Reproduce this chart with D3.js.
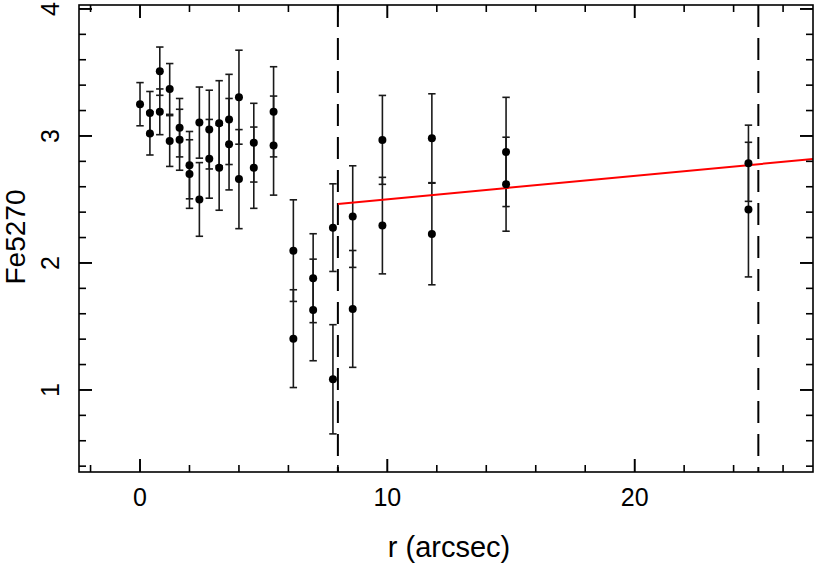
<!DOCTYPE html>
<html>
<head>
<meta charset="utf-8">
<script src="https://cdn.jsdelivr.net/npm/d3@7"></script>
<style>
  html, body { margin: 0; padding: 0; background: #ffffff; }
  svg { display: block; }
  text { font-family: "Liberation Sans", Arial, sans-serif; fill: #000; }
</style>
</head>
<body>
<svg id="chart" width="817" height="568"></svg>
<script>
// ---- data ----
const radius = [0,
  0.4, 0.4, 0.8, 0.8, 1.2, 1.2, 1.6, 1.6, 2.0, 2.0,
  2.4, 2.4, 2.8, 2.8, 3.2, 3.2, 3.6, 3.6, 4.0, 4.0,
  4.6, 4.6, 5.4, 5.4, 6.2, 6.2, 7.0, 7.0, 7.8, 7.8,
  8.6, 8.6, 9.8, 9.8, 11.8, 11.8, 14.8, 14.8, 24.6, 24.6];
const fe5270 = [3.25,
  3.18, 3.02, 3.51, 3.19, 3.37, 2.96, 3.065, 2.97, 2.77, 2.70,
  3.105, 2.50, 3.05, 2.82, 3.10, 2.75, 3.13, 2.935, 3.305, 2.66,
  2.947, 2.75, 3.19, 2.924, 2.097, 1.404, 1.88, 1.63, 2.278, 1.084,
  2.365, 1.638, 2.969, 2.294, 2.982, 2.228, 2.874, 2.62, 2.785, 2.42];
const fe5270Err = [0.17,
  0.17, 0.17, 0.19, 0.18, 0.20, 0.20, 0.23, 0.24, 0.265, 0.27,
  0.28, 0.29, 0.31, 0.31, 0.335, 0.335, 0.355, 0.36, 0.37, 0.39,
  0.31, 0.32, 0.355, 0.39, 0.40, 0.385, 0.35, 0.40, 0.345, 0.43,
  0.40, 0.46, 0.35, 0.38, 0.35, 0.40, 0.43, 0.37, 0.30, 0.53];
const fitR = [8, 27.21];
const fitFe = [2.465, 2.818];
const boundaryR = [8, 25];
const xTickLabels = [0, 10, 20];
const yTickLabels = [1, 2, 3, 4];
const xLabel = "r (arcsec)";
const yLabel = "Fe5270";

// ---- layout ----
const svg = d3.select("#chart");
const L = 79, R = 813, T = 5, B = 472;
const x = d3.scaleLinear().domain([-2.467, 27.21]).range([L, R]);
const y = d3.scaleLinear().domain([0.354, 4.031]).range([B, T]);

const points = radius.map((r, i) => ({ r, v: fe5270[i], e: fe5270Err[i] }));

svg.append("clipPath").attr("id", "clip")
  .append("rect").attr("x", L).attr("y", T).attr("width", R - L).attr("height", B - T);

const plot = svg.append("g").attr("clip-path", "url(#clip)");

// dashed boundary lines
plot.selectAll(".bound").data(boundaryR).enter().append("line")
  .attr("x1", d => x(d)).attr("x2", d => x(d))
  .attr("y1", T).attr("y2", B)
  .attr("stroke", "#000").attr("stroke-width", 2)
  .attr("stroke-dasharray", "22,11");

// error bars
const eb = plot.append("g").attr("stroke", "#1a1a1a").attr("stroke-width", 1.6).attr("fill", "none");
points.forEach(p => {
  eb.append("line").attr("x1", x(p.r)).attr("x2", x(p.r))
    .attr("y1", y(p.v + p.e)).attr("y2", y(p.v - p.e));
  [p.v + p.e, p.v - p.e].forEach(c => {
    eb.append("line").attr("x1", x(p.r) - 3.7).attr("x2", x(p.r) + 3.7)
      .attr("y1", y(c)).attr("y2", y(c));
  });
});

// fit line
plot.append("path")
  .datum(fitR.map((r, i) => [r, fitFe[i]]))
  .attr("d", d3.line().x(d => x(d[0])).y(d => y(d[1])))
  .attr("stroke", "#ff0000").attr("stroke-width", 2).attr("fill", "none");

// points
plot.selectAll(".pt").data(points).enter().append("circle")
  .attr("cx", d => x(d.r)).attr("cy", d => y(d.v)).attr("r", 4)
  .attr("fill", "#000");

// ---- frame & ticks ----
const axes = svg.append("g").attr("stroke", "#000").attr("stroke-width", 1.6);
axes.append("rect").attr("x", L).attr("y", T).attr("width", R - L).attr("height", B - T)
  .attr("fill", "none");

const xMinor = d3.range(-2, 27.5, 2);
const xMajor = d3.range(0, 27, 10);
const yMinor = d3.range(0.4, 4.01, 0.2).map(v => +v.toFixed(1));
const yMajor = [1, 2, 3, 4];

function tickLen(isMajor) { return isMajor ? 13 : 7; }

xMinor.concat(xMajor).forEach(v => {
  const len = tickLen(xMajor.includes(v));
  axes.append("line").attr("x1", x(v)).attr("x2", x(v)).attr("y1", B).attr("y2", B - len);
  axes.append("line").attr("x1", x(v)).attr("x2", x(v)).attr("y1", T).attr("y2", T + len);
});
yMinor.concat(yMajor).forEach(v => {
  const len = tickLen(yMajor.includes(v));
  axes.append("line").attr("x1", L).attr("x2", L + len).attr("y1", y(v)).attr("y2", y(v));
  axes.append("line").attr("x1", R).attr("x2", R - len).attr("y1", y(v)).attr("y2", y(v));
});

// tick labels
svg.selectAll(".xtl").data(xTickLabels).enter().append("text")
  .attr("x", d => x(d)).attr("y", 506)
  .attr("text-anchor", "middle").attr("font-size", 25)
  .text(d => d);

svg.selectAll(".ytl").data(yTickLabels).enter().append("text")
  .attr("transform", d => `translate(58.5,${y(d)}) rotate(-90)`)
  .attr("text-anchor", "middle").attr("font-size", 25)
  .text(d => d);

// axis labels
svg.append("text").attr("x", 449).attr("y", 557)
  .attr("text-anchor", "middle").attr("font-size", 29).text(xLabel);
svg.append("text")
  .attr("transform", `translate(25,237) rotate(-90)`)
  .attr("text-anchor", "middle").attr("font-size", 28).text(yLabel);
</script>
</body>
</html>
